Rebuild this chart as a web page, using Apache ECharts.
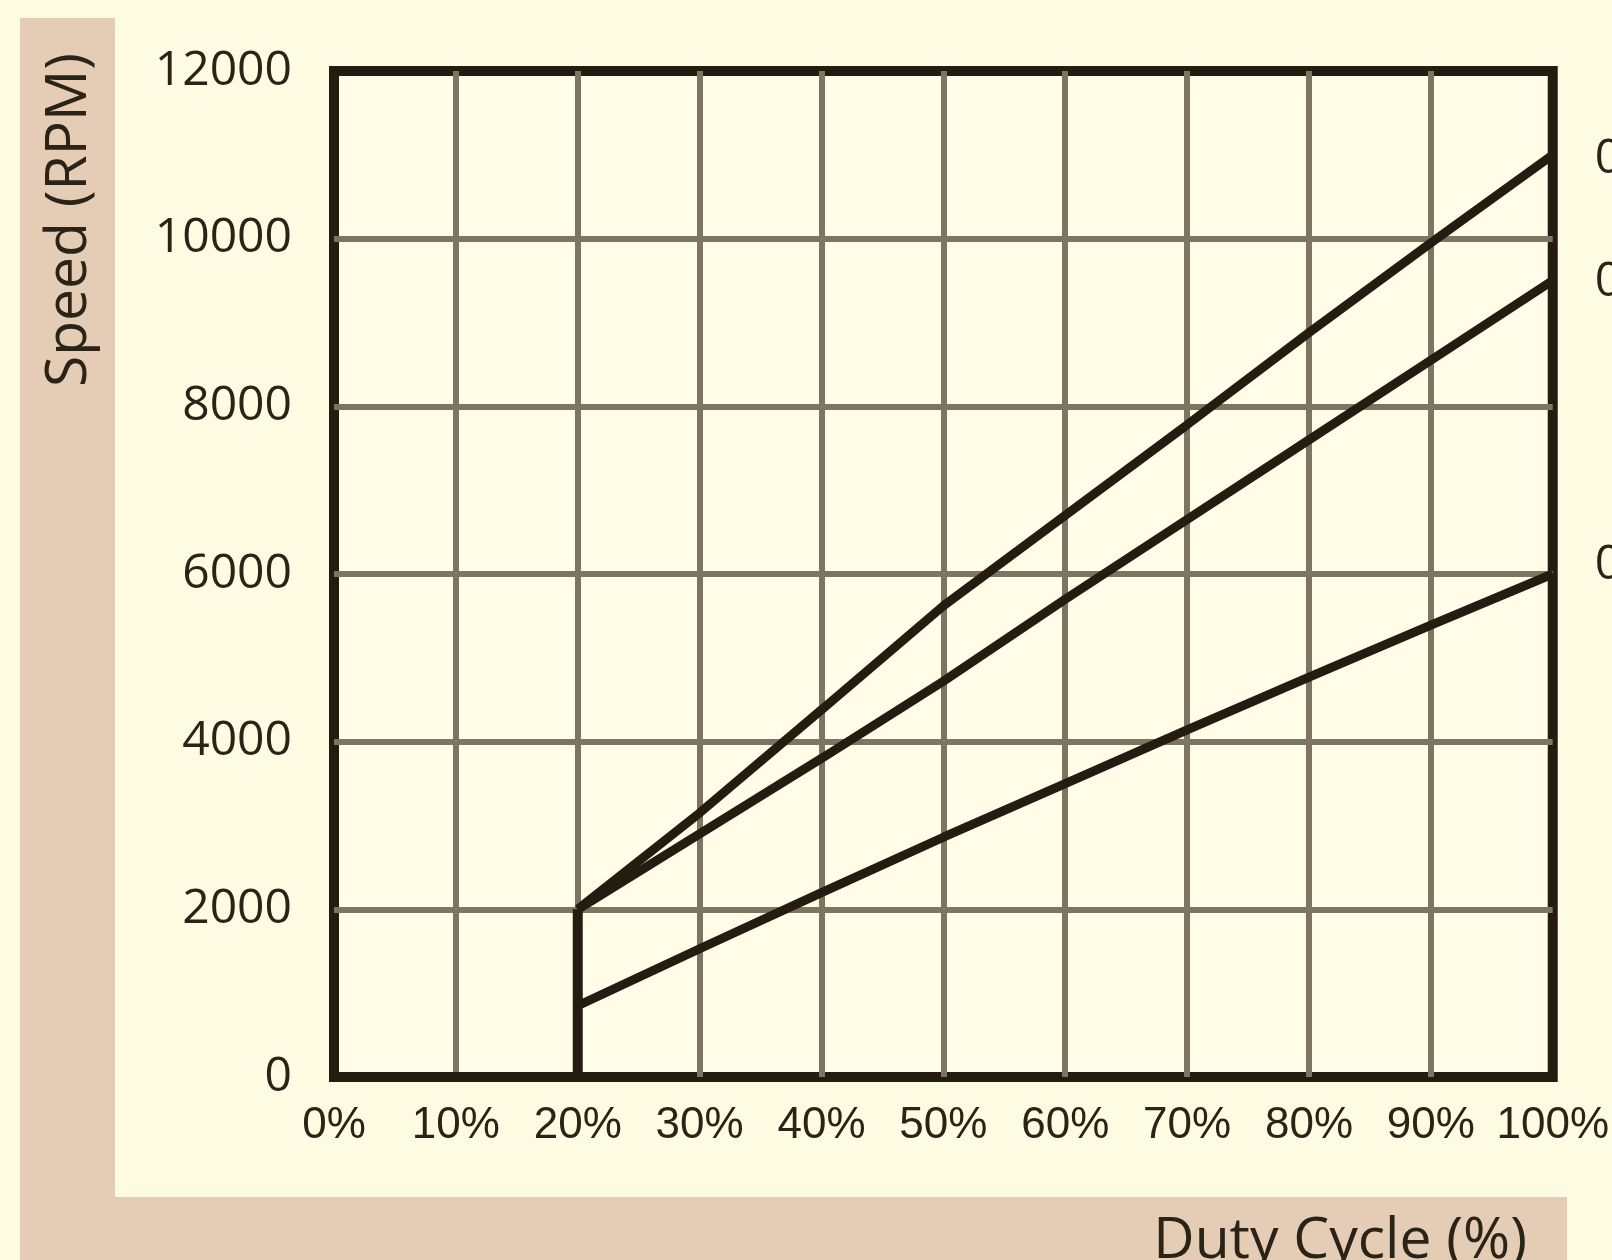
<!DOCTYPE html>
<html>
<head>
<meta charset="utf-8">
<title>Speed vs Duty Cycle</title>
<script src="https://cdn.jsdelivr.net/npm/echarts@6/dist/echarts.min.js"></script>
<style>
  html, body { margin: 0; padding: 0; background: #fefbe3; }
  #main { width: 1612px; height: 1260px; }
</style>
</head>
<body>
<div id="main"></div>
<script>
// duty cycle (%) sampled along each curve
const duty = [20, 30, 40, 50, 60, 70, 80, 90, 100];
// speed (RPM) per curve
const speedTop = [2000, 3150, 4380, 5620, 6700, 7780, 8880, 9950, 11000];
const speedMid = [2000, 2900, 3800, 4720, 5700, 6650, 7600, 8550, 9500];
const speedLow = [850, 1530, 2200, 2860, 3500, 4140, 4770, 5390, 6000];
// motor is stopped below 20% duty, then jumps to 2000 RPM
const stepDuty = [0, 20, 20];
const stepSpeed = [0, 0, 2000];
// curve labels at the right edge (cut off in the original)
const curveNames = ['0', '0', '0'];

const xTicks = { min: 0, max: 100, interval: 10 };
const yTicks = { min: 0, max: 12000, interval: 2000 };

function pairs(xs, ys) {
    return xs.map(function (x, i) { return [x, ys[i]]; });
}

let dom = document.getElementById('main');
let chart = echarts.init(dom, null, { renderer: 'canvas' });

const ink = '#231c10';
const gridInk = '#7c755f';

function curve(name, data, offset) {
    return {
        name: name,
        type: 'line',
        data: data,
        symbol: 'none',
        lineStyle: { color: ink, width: 9 },
        z: 5,
        endLabel: {
            show: true,
            formatter: '{a}',
            distance: 42,
            offset: offset,
            color: '#2a2418',
            fontFamily: 'Open Sans',
            fontSize: 48
        }
    };
}

let option = {
    animation: false,
    backgroundColor: '#fefbe3',
    graphic: [
        // L-shaped tan band behind the axis titles
        { type: 'rect', z: -10, shape: { x: 20, y: 18, width: 95, height: 1242 }, style: { fill: '#e4cdb4' } },
        { type: 'rect', z: -10, shape: { x: 20, y: 1197, width: 1547, height: 63 }, style: { fill: '#e4cdb4' } },
        {
            type: 'text', z: 10, x: 70, y: 220, rotation: Math.PI / 2,
            style: {
                text: 'Speed (RPM)', fill: '#2a2418',
                font: '57px "Open Sans"', align: 'center', verticalAlign: 'middle'
            }
        },
        {
            type: 'text', z: 10, x: 1527, y: 1242,
            style: {
                text: 'Duty Cycle (%)', fill: '#2a2418',
                font: '57px "Open Sans"', align: 'right', verticalAlign: 'middle'
            }
        }
    ],
    grid: {
        left: 334,
        right: 59,
        top: 71,
        bottom: 183,
        show: true,
        backgroundColor: '#fffce8',
        borderColor: ink,
        borderWidth: 10
    },
    xAxis: {
        type: 'value',
        min: xTicks.min,
        max: xTicks.max,
        interval: xTicks.interval,
        axisLine: { show: false },
        axisTick: { show: false },
        axisLabel: {
            formatter: '{value}%',
            margin: 27,
            color: '#2a2418',
            fontFamily: '"Liberation Sans", sans-serif',
            fontSize: 44
        },
        splitLine: {
            showMinLine: false,
            showMaxLine: false,
            lineStyle: { color: gridInk, width: 6 }
        }
    },
    yAxis: {
        type: 'value',
        min: yTicks.min,
        max: yTicks.max,
        interval: yTicks.interval,
        axisLine: { show: false },
        axisTick: { show: false },
        axisLabel: {
            formatter: function (v) { return String(v); },
            margin: 42,
            color: '#2a2418',
            fontFamily: 'Open Sans',
            fontSize: 48
        },
        splitLine: {
            showMinLine: false,
            showMaxLine: false,
            lineStyle: { color: gridInk, width: 6 }
        }
    },
    series: [
        {
            name: 'cutoff',
            type: 'line',
            data: pairs(stepDuty, stepSpeed),
            symbol: 'none',
            lineStyle: { color: ink, width: 10 },
            z: 6
        },
        curve(curveNames[0], pairs(duty, speedTop), [0, 4]),
        curve(curveNames[1], pairs(duty, speedMid), [0, 2]),
        curve(curveNames[2], pairs(duty, speedLow), [0, -9])
    ]
};

option && chart.setOption(option);
</script>
</body>
</html>
